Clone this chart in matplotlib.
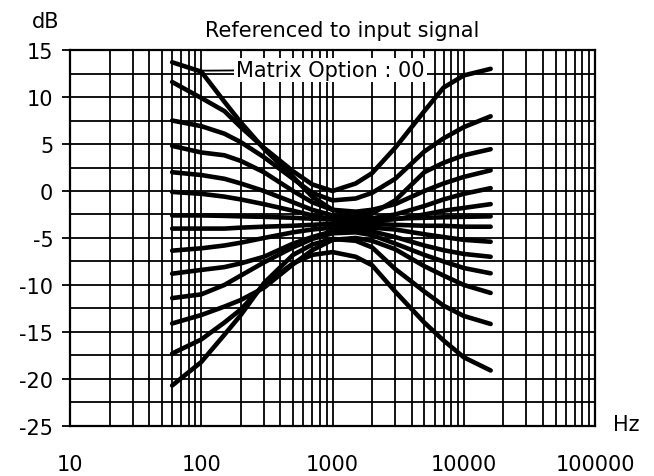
import matplotlib
matplotlib.use('Agg')
import matplotlib.pyplot as plt
from matplotlib.ticker import LogLocator, MultipleLocator, FixedLocator, NullFormatter

# the scanned lettering is wide, DejaVu Sans gets closest
plt.rcParams['font.family'] = ['DejaVu Sans']
plt.rcParams['axes.unicode_minus'] = False

# frequency points (Hz) shared by every curve
freq_hz = [60, 100, 150, 200, 300, 500, 700, 1000, 1500, 2000, 3000, 5000, 7000, 10000, 16000]

# gain curves (dB), top to bottom at the low end
db_01 = [13.7, 12.7, 9.5, 7.3, 4.5, 1.5, -0.6, -2.0, -2.6, -2.4, -1.0, 2.0, 3.0, 3.8, 4.45]
db_02 = [11.6, 9.9, 8.5, 6.8, 4.6, 2.1, 0.7, 0.0, 0.8, 1.9, 4.6, 8.5, 11.0, 12.3, 13.0]
db_03 = [7.5, 6.9, 6.1, 5.2, 3.6, 1.3, -0.2, -1.0, -0.8, -0.2, 1.3, 4.2, 5.6, 6.8, 7.95]
db_04 = [4.8, 4.1, 3.8, 3.2, 2.0, 0.0, -1.2, -2.0, -2.2, -2.0, -1.4, 0.0, 0.8, 1.5, 2.2]
db_05 = [2.0, 1.7, 1.3, 0.8, 0.0, -1.2, -2.0, -2.6, -2.9, -2.9, -2.5, -1.6, -0.9, -0.3, 0.3]
db_06 = [-0.1, -0.3, -0.6, -0.9, -1.4, -2.1, -2.6, -3.0, -3.2, -3.2, -3.0, -2.5, -2.1, -1.8, -1.4]
db_07 = [-2.6, -2.6, -2.65, -2.7, -2.75, -2.85, -2.95, -3.05, -3.1, -3.05, -2.95, -2.85, -2.8, -2.75, -2.7]
db_08 = [-4.0, -4.0, -4.0, -3.9, -3.8, -3.7, -3.6, -3.5, -3.5, -3.5, -3.6, -3.7, -3.7, -3.8, -3.8]
db_09 = [-6.35, -6.1, -5.8, -5.5, -5.0, -4.4, -4.1, -3.9, -3.85, -3.9, -4.1, -4.6, -4.9, -5.2, -5.4]
db_10 = [-8.8, -8.4, -8.1, -7.7, -7.0, -5.6, -4.9, -4.3, -4.1, -4.3, -4.9, -5.8, -6.3, -6.7, -7.0]
db_11 = [-11.4, -11.0, -10.0, -9.0, -7.6, -6.0, -5.1, -4.5, -4.4, -4.7, -5.6, -6.8, -7.5, -8.2, -8.76]
db_12 = [-14.1, -13.2, -12.3, -11.6, -10.3, -7.8, -6.3, -5.2, -5.0, -5.3, -6.2, -8.0, -9.0, -10.0, -10.85]
db_13 = [-17.3, -15.8, -14.0, -12.6, -10.0, -7.7, -6.8, -6.5, -7.0, -7.9, -10.7, -14.0, -15.9, -17.7, -19.1]
db_14 = [-20.7, -18.2, -15.3, -13.2, -9.8, -6.8, -5.7, -5.1, -5.3, -6.0, -8.3, -10.7, -12.2, -13.3, -14.15]

curves = [db_01, db_02, db_03, db_04, db_05, db_06, db_07,
          db_08, db_09, db_10, db_11, db_12, db_13, db_14]

x_labels = ['10', '100', '1000', '10000', '100000']
y_major = [-25, -20, -15, -10, -5, 0, 5, 10, 15]

fig = plt.figure(figsize=(6.54, 4.77), dpi=100)
ax = fig.add_axes([0.107, 0.105, 0.803, 0.788])

for db in curves:
    ax.plot(freq_hz, db, color='black', lw=3.3, solid_capstyle='round',
            solid_joinstyle='round', zorder=3)

ax.set_xscale('log')
ax.set_xlim(10, 100000)
ax.set_ylim(-25, 15)

# grid: every log minor step and every 2.5 dB
ax.xaxis.set_major_locator(FixedLocator([10, 100, 1000, 10000, 100000]))
ax.xaxis.set_minor_locator(LogLocator(base=10, subs=range(2, 10)))
ax.xaxis.set_minor_formatter(NullFormatter())
ax.set_xticklabels(x_labels)
ax.yaxis.set_major_locator(FixedLocator(y_major))
ax.set_yticklabels([str(v) for v in y_major])
ax.yaxis.set_minor_locator(MultipleLocator(2.5))
ax.grid(True, which='both', color='black', lw=1.3, zorder=1)
ax.set_axisbelow(True)

ax.tick_params(axis='x', which='both', length=0, pad=20, labelsize=15)
ax.tick_params(axis='y', which='major', length=6, width=1.3, direction='out', pad=6, labelsize=15)
ax.tick_params(axis='y', which='minor', length=0)
for sp in ax.spines.values():
    sp.set_linewidth(1.6)

ax.annotate('Matrix Option : 00', xy=(91, 12.8), xytext=(184, 12.9),
            ha='left', va='center', fontsize=15, zorder=4,
            bbox=dict(facecolor='white', edgecolor='none', pad=1.5),
            arrowprops=dict(arrowstyle='-', color='black', lw=1.3,
                            shrinkA=0, shrinkB=0))

fig.text(0.523, 0.935, 'Referenced to input signal', ha='center', va='center', fontsize=15)
fig.text(0.069, 0.954, 'dB', ha='center', va='center', fontsize=15)
fig.text(0.958, 0.108, 'Hz', ha='center', va='center', fontsize=15)

fig.savefig('out.png', dpi=100)
